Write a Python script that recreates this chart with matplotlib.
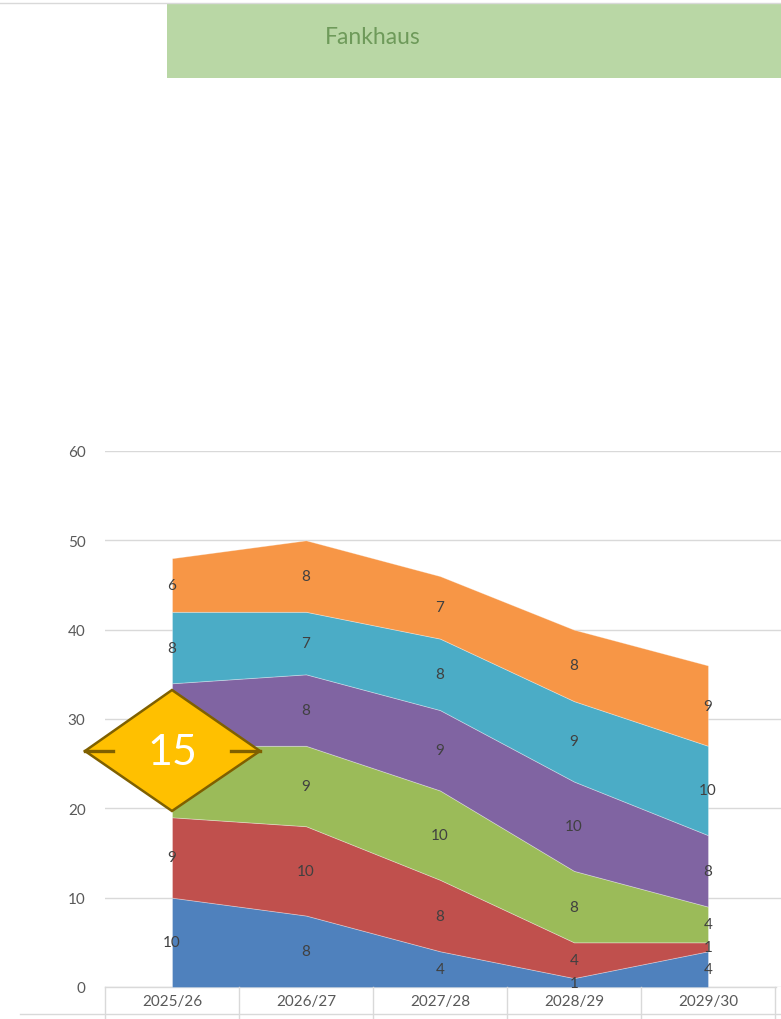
import matplotlib
matplotlib.use("Agg")
import matplotlib.pyplot as plt
from matplotlib.patches import Polygon, Rectangle
from matplotlib.lines import Line2D
import numpy as np

plt.rcParams['font.family'] = ['Lato', 'DejaVu Sans']

categories = ["2025/26", "2026/27", "2027/28", "2028/29", "2029/30"]
s_blue   = [10, 8, 4, 1, 4]
s_red    = [9, 10, 8, 4, 1]
s_green  = [8, 9, 10, 8, 4]
s_purple = [7, 8, 9, 10, 8]
s_teal   = [8, 7, 8, 9, 10]
s_orange = [6, 8, 7, 8, 9]
series = [s_blue, s_red, s_green, s_purple, s_teal, s_orange]
colors = ["#4F81BD", "#C0504D", "#9BBB59", "#8064A2", "#4BACC6", "#F79646"]
title = "Fankhaus"
badge = "15"
y_ticks = [0, 10, 20, 30, 40, 50, 60]

W, H = 781, 1020
fig = plt.figure(figsize=(W / 100, H / 100), dpi=100)

def fx(px):
    return px / W

def fy(py):
    return 1 - py / H

ax = fig.add_axes([fx(105), fy(988), fx(781) - fx(105), fy(452) - fy(988)])
x = np.arange(len(categories))
ax.stackplot(x, *series, colors=colors, edgecolor=(1, 1, 1, 0.35), linewidth=0.6, zorder=2)
ax.set_ylim(0, 60)
ax.set_xlim(-0.5, -0.5 + 676 / 134)
ax.set_yticks(y_ticks)
ax.yaxis.grid(True, color="#D9D9D9", linewidth=1, zorder=0)
ax.set_axisbelow(True)
for s in ax.spines.values():
    s.set_visible(False)
ax.tick_params(axis="y", length=0, pad=14, labelsize=11, labelcolor="#595959")
ax.set_xticks(x)
ax.set_xticklabels(categories)
ax.tick_params(axis="x", length=0, pad=5, labelsize=11, labelcolor="#595959")

# data labels
cum = np.zeros(len(categories))
for vals in series:
    v = np.array(vals, dtype=float)
    for i in range(len(v)):
        ax.text(x[i], cum[i] + v[i] / 2, str(int(v[i])), ha="center", va="center",
                fontsize=11, color="#404040", zorder=5)
    cum += v

# table lines below axis
tr = ax.get_xaxis_transform()
depth = (1020 - 988) / (988 - 452)
ax.plot([-0.5, -0.5 + 671 / 134], [0, 0], transform=tr, color="#D9D9D9", lw=1, clip_on=False, zorder=1)
for b in np.arange(-0.5, len(categories), 1.0):
    ax.add_line(Line2D([b, b], [0, -depth], transform=tr, color="#D9D9D9", lw=1, clip_on=False))
fig.add_artist(Line2D([fx(20), fx(781)], [fy(1015), fy(1015)], color="#D9D9D9", lw=1))

# header
fig.add_artist(Line2D([0, 1], [fy(4), fy(4)], color="#D9D9D9", lw=1))
fig.add_artist(Rectangle((fx(167), fy(79)), fx(781) - fx(167), fy(4) - fy(79),
                         facecolor="#B9D7A5", edgecolor="none"))
fig.text(fx(373), fy(37), title, ha="center", va="center", fontsize=16.5, color="#6E9A5A")

# diamond badge
cxp, cyp = 172, 752
pts = [(fx(85), fy(cyp)), (fx(cxp), fy(691)), (fx(260), fy(cyp)), (fx(cxp), fy(812))]
fig.add_artist(Polygon(pts, closed=True, facecolor="#FFC000", edgecolor="#7F6000", lw=1.8, zorder=10))
fig.add_artist(Line2D([fx(85), fx(113)], [fy(cyp), fy(cyp)], color="#7F6000", lw=2.4, zorder=11))
fig.add_artist(Line2D([fx(231), fx(260)], [fy(cyp), fy(cyp)], color="#7F6000", lw=2.4, zorder=11))
fig.text(fx(cxp), fy(cyp + 1), badge, ha="center", va="center", fontsize=31, color="white", zorder=12)

fig.savefig("out.png", dpi=100)
